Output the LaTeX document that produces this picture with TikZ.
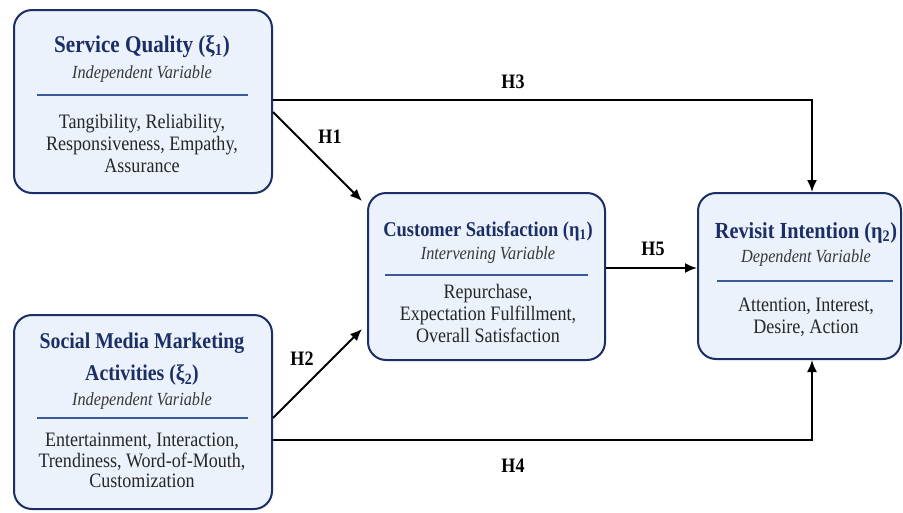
\documentclass[tikz,border=0pt]{standalone}
\usepackage{fontspec}
\setmainfont{Liberation Serif}[FakeStretch=0.88]
\usepackage{xcolor}
\usetikzlibrary{arrows.meta, positioning, calc}
\definecolor{modelNavy}{RGB}{28, 46, 102}
\definecolor{modelFill}{RGB}{235, 242, 251}
\definecolor{modelRule}{RGB}{55, 90, 155}
\definecolor{modelGray}{RGB}{55, 55, 55}

\begin{document}
\begin{tikzpicture}[x=1pt, y=-1pt,
    varbox/.style={draw=modelNavy, line width=2pt, fill=modelFill, rounded corners=18pt, inner sep=0pt},
    title/.style={font=\fontsize{#1}{32}\selectfont\bfseries, text=modelNavy, align=center, anchor=base, inner sep=0pt},
    title/.default=22.5,
    role/.style={font=\fontsize{18.5}{21}\selectfont\itshape, text=modelGray, anchor=base, inner sep=0pt},
    items/.style={font=\fontsize{20.5}{22}\selectfont, text=black!85, align=center, anchor=north, inner sep=0pt},
    rule/.style={draw=modelRule, line width=1.2pt},
    link/.style={-{Latex[length=12pt, width=10pt]}, line width=1.8pt},
    hyp/.style={font=\fontsize{20.5}{22}\selectfont\bfseries, anchor=base, inner sep=0pt}]

\useasboundingbox[fill=white] (0,0) rectangle (903,512);

% variable boxes
\node[varbox, minimum width=258pt, minimum height=183pt] (sq) at (143,101.5) {};
\node[varbox, minimum width=258pt, minimum height=194pt] (smm) at (143,412) {};
\node[varbox, minimum width=237pt, minimum height=167pt] (cs) at (486.5,276.5) {};
\node[varbox, minimum width=203pt, minimum height=166pt] (ri) at (799.5,276) {};

% service quality
\node[title=24] (sq-t) at (142,52) {Service Quality (ξ\textsubscript{1})};
\node[role] (sq-r) at (142,78) {Independent Variable};
\draw[rule] (37,95) -- (248,95);
\node[items] (sq-i) at (142,114) {Tangibility, Reliability,\\Responsiveness, Empathy,\\Assurance};

% social media marketing
\node[title, anchor=north] (smm-t) at (142,333) {Social Media Marketing\\Activities (ξ\textsubscript{2})};
\node[role] (smm-r) at (142,405) {Independent Variable};
\draw[rule] (37,418) -- (248,418);
\node[items, font=\fontsize{20.5}{20.5}\selectfont] (smm-i) at (142,433) {Entertainment, Interaction,\\Trendiness, Word-of-Mouth,\\Customization};

% customer satisfaction
\node[title=21] (cs-t) at (488,236) {Customer Satisfaction (η\textsubscript{1})};
\node[role] (cs-r) at (488,259) {Intervening Variable};
\draw[rule] (385,275) -- (588,275);
\node[items] (cs-i) at (488,284) {Repurchase,\\Expectation Fulfillment,\\Overall Satisfaction};

% revisit intention
\node[title=23] (ri-t) at (806,238) {Revisit Intention (η\textsubscript{2})};
\node[role] (ri-r) at (806,262) {Dependent Variable};
\draw[rule] (717,281) -- (893,281);
\node[items] (ri-i) at (806,298) {Attention, Interest,\\Desire, Action};

% hypotheses
\draw[link] (sq.east |- 0,112) -- ($(cs.north west)+(-5,9)$);
\draw[link] (smm.east |- 0,418) -- ($(cs.south west)+(-5,-32)$);
\draw[link] (sq.east |- 0,100) -| (812,0 |- ri.north);
\draw[link] (smm.east |- 0,440) -| (812,0 |- ri.south);
\draw[link] (cs.east |- 0,268) -- (ri.west |- 0,268);

\node[hyp] (h1) at (330,143) {H1};
\node[hyp] (h2) at (302,365) {H2};
\node[hyp] (h3) at (513,88) {H3};
\node[hyp] (h4) at (513,472) {H4};
\node[hyp] (h5) at (653,255) {H5};
\end{tikzpicture}
\end{document}
